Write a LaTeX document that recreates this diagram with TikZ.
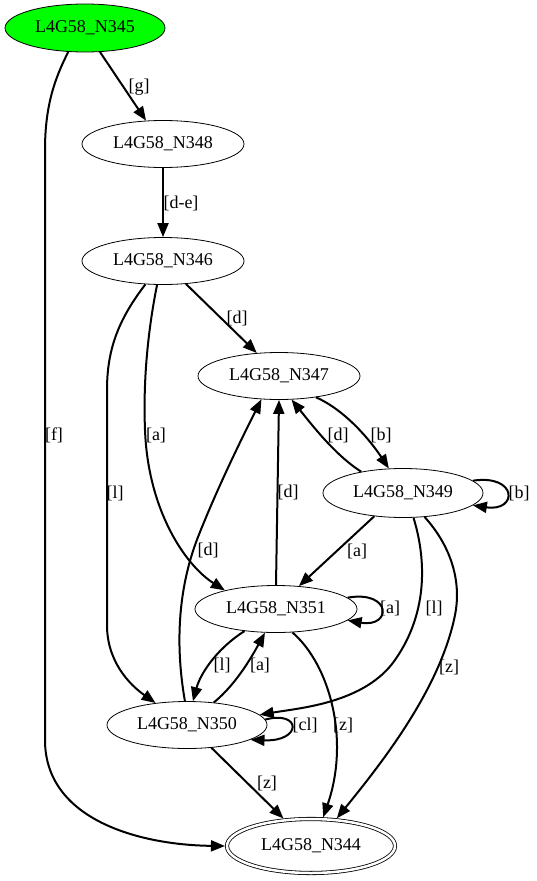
\documentclass[tikz,border=0pt]{standalone}
\usepackage{fontspec}
\setmainfont{Liberation Serif}
\usetikzlibrary{shapes.geometric,arrows.meta}
\definecolor{stgreen}{RGB}{0,255,0}
\begin{document}
\begin{tikzpicture}[x=1pt,y=-1pt,
  st/.style={ellipse,draw,line width=0.8pt,minimum width=162pt,minimum height=47pt,inner sep=0pt,font=\fontsize{18}{20}\selectfont},
  ed/.style={line width=2pt,-{Triangle[length=14pt,width=11pt]}},
  lb/.style={font=\fontsize{18}{20}\selectfont,inner sep=0pt}]
\useasboundingbox (0,0) rectangle (536,881);
\fill[white] (0,0) rectangle (536,881);
% nodes
\node[st,fill=stgreen,minimum width=160pt,minimum height=48pt] (n345) at (85,28) {L4G58\_N345};
\node[st] (n348) at (163,144) {L4G58\_N348};
\node[st] (n346) at (163,261) {L4G58\_N346};
\node[st] (n347) at (279,376) {L4G58\_N347};
\node[st,minimum width=160pt,minimum height=49pt] (n349) at (403,493) {L4G58\_N349};
\node[st] (n351) at (276,609) {L4G58\_N351};
\node[st,minimum width=160pt] (n350) at (187,725) {L4G58\_N350};
\node[st,double,double distance=2.5pt,minimum width=168pt,minimum height=54pt,outer sep=2.05pt] (n344) at (311,846) {L4G58\_N344};
% edges
\draw[ed] (n345.235) .. controls (55,78) and (45,105) .. (45,150) -- (45,740) .. controls (45,820) and (140,845) .. (n344.180);
\draw[ed] (n345.302) -- (n348.126);
\draw[ed] (n348.south) -- (n346.north);
\draw[ed] (n346.315) -- (n347.134);
\draw[ed] (n346.233) .. controls (118,320) and (107,350) .. (107,390) -- (107,625) .. controls (107,662) and (130,685) .. (n350.145);
\draw[ed] (n346.256) .. controls (148,330) and (143,380) .. (145,430) .. controls (148,510) and (185,565) .. (n351.160);
\draw[ed] (n347.330) .. controls (345,410) and (370,440) .. (n349.120);
\draw[ed] (n349.153) .. controls (335,455) and (312,425) .. (n347.298);
\draw[ed] (n349.10) .. controls (518,474) and (518,512) .. (n349.350);
\draw[ed] (n349.219) -- (n351.45);
\draw[ed] (n349.293) .. controls (425,555) and (430,610) .. (395,660) .. controls (365,703) and (300,708) .. (n350.8);
\draw[ed] (n349.312) .. controls (450,545) and (462,580) .. (455,615) .. controls (440,690) and (380,765) .. (n344.47);
\draw[ed] (n351.north) -- (n347.south);
\draw[ed] (n350.95) .. controls (176,650) and (176,590) .. (200,532) .. controls (220,482) and (245,432) .. (n347.233);
\draw[ed] (n351.9) .. controls (392,590) and (392,628) .. (n351.351);
\draw[ed] (n351.215) .. controls (215,650) and (200,675) .. (n350.76);
\draw[ed] (n350.40) .. controls (235,685) and (250,660) .. (n351.245);
\draw[ed] (n350.4) .. controls (302,710) and (302,742) .. (n350.347);
\draw[ed] (n351.305) .. controls (330,665) and (350,740) .. (n344.67);
\draw[ed] (n350.317) -- (n344.135);
% labels
\node[lb] (l1) at (139,87) {[g]};
\node[lb] (l2) at (181,203) {[d-e]};
\node[lb] (l3) at (237,318) {[d]};
\node[lb] (l4) at (338,435) {[d]};
\node[lb] (l5) at (381,435) {[b]};
\node[lb] (l6) at (519,493) {[b]};
\node[lb] (l7) at (288,492) {[d]};
\node[lb] (l8) at (357,551) {[a]};
\node[lb] (l9) at (208,550) {[d]};
\node[lb] (l10) at (390,608) {[a]};
\node[lb] (l11) at (434,608) {[l]};
\node[lb] (l12) at (222,665) {[l]};
\node[lb] (l13) at (260,665) {[a]};
\node[lb] (l14) at (449,667) {[z]};
\node[lb] (l15) at (305,725) {[cl]};
\node[lb] (l16) at (343,725) {[z]};
\node[lb] (l17) at (267,783) {[z]};
\node[lb] (l18) at (54,435) {[f]};
\node[lb] (l19) at (156,435) {[a]};
\node[lb] (l20) at (115,493) {[l]};
\end{tikzpicture}
\end{document}
